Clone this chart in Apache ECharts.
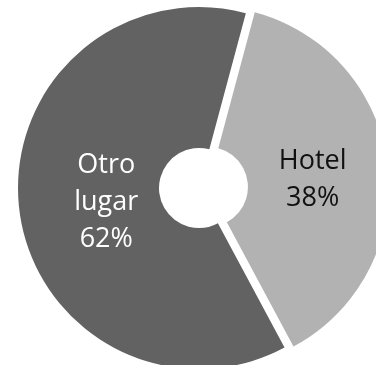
<!DOCTYPE html>
<html>
<head>
<meta charset="utf-8">
<script src="https://cdn.jsdelivr.net/npm/echarts@6/dist/echarts.min.js"></script>
<style>
  html, body { margin: 0; padding: 0; background: #fff; }
  #main { width: 376px; height: 365px; }
</style>
</head>
<body>
<div id="main"></div>
<script>
// datos del gráfico
var categories = ['Hotel', 'Otro\nlugar'];
var values = [38, 62];
var colors = ['#b2b2b2', '#626262'];
var labelColors = ['#111111', '#ffffff'];

var myChart = echarts.init(document.getElementById('main'));

var seriesData = categories.map(function (name, i) {
    return {
        name: name,
        value: values[i],
        selected: i === 0,
        itemStyle: { color: colors[i] },
        label: { color: labelColors[i] }
    };
});

var option = {
    backgroundColor: '#ffffff',
    animation: false,
    series: [{
        type: 'pie',
        center: [199, 188],
        radius: [40, 181],
        startAngle: 75,
        clockwise: true,
        selectedMode: 'single',
        selectedOffset: 9,
        emphasis: { disabled: true },
        label: {
            show: true,
            position: 'inside',
            fontFamily: 'Open Sans',
            fontSize: 27,
            lineHeight: 37,
            align: 'center',
            formatter: function (p) {
                return p.name + '\n' + Math.round(p.percent) + '%';
            }
        },
        labelLine: { show: false },
        labelLayout: function (params) {
            // pequeños ajustes de posición
            if (params.dataIndex === 1) {
                return { dx: 20, dy: 1 };
            }
            return { dx: -8, dy: 6 };
        },
        data: seriesData
    }]
};

myChart.setOption(option);
</script>
</body>
</html>
